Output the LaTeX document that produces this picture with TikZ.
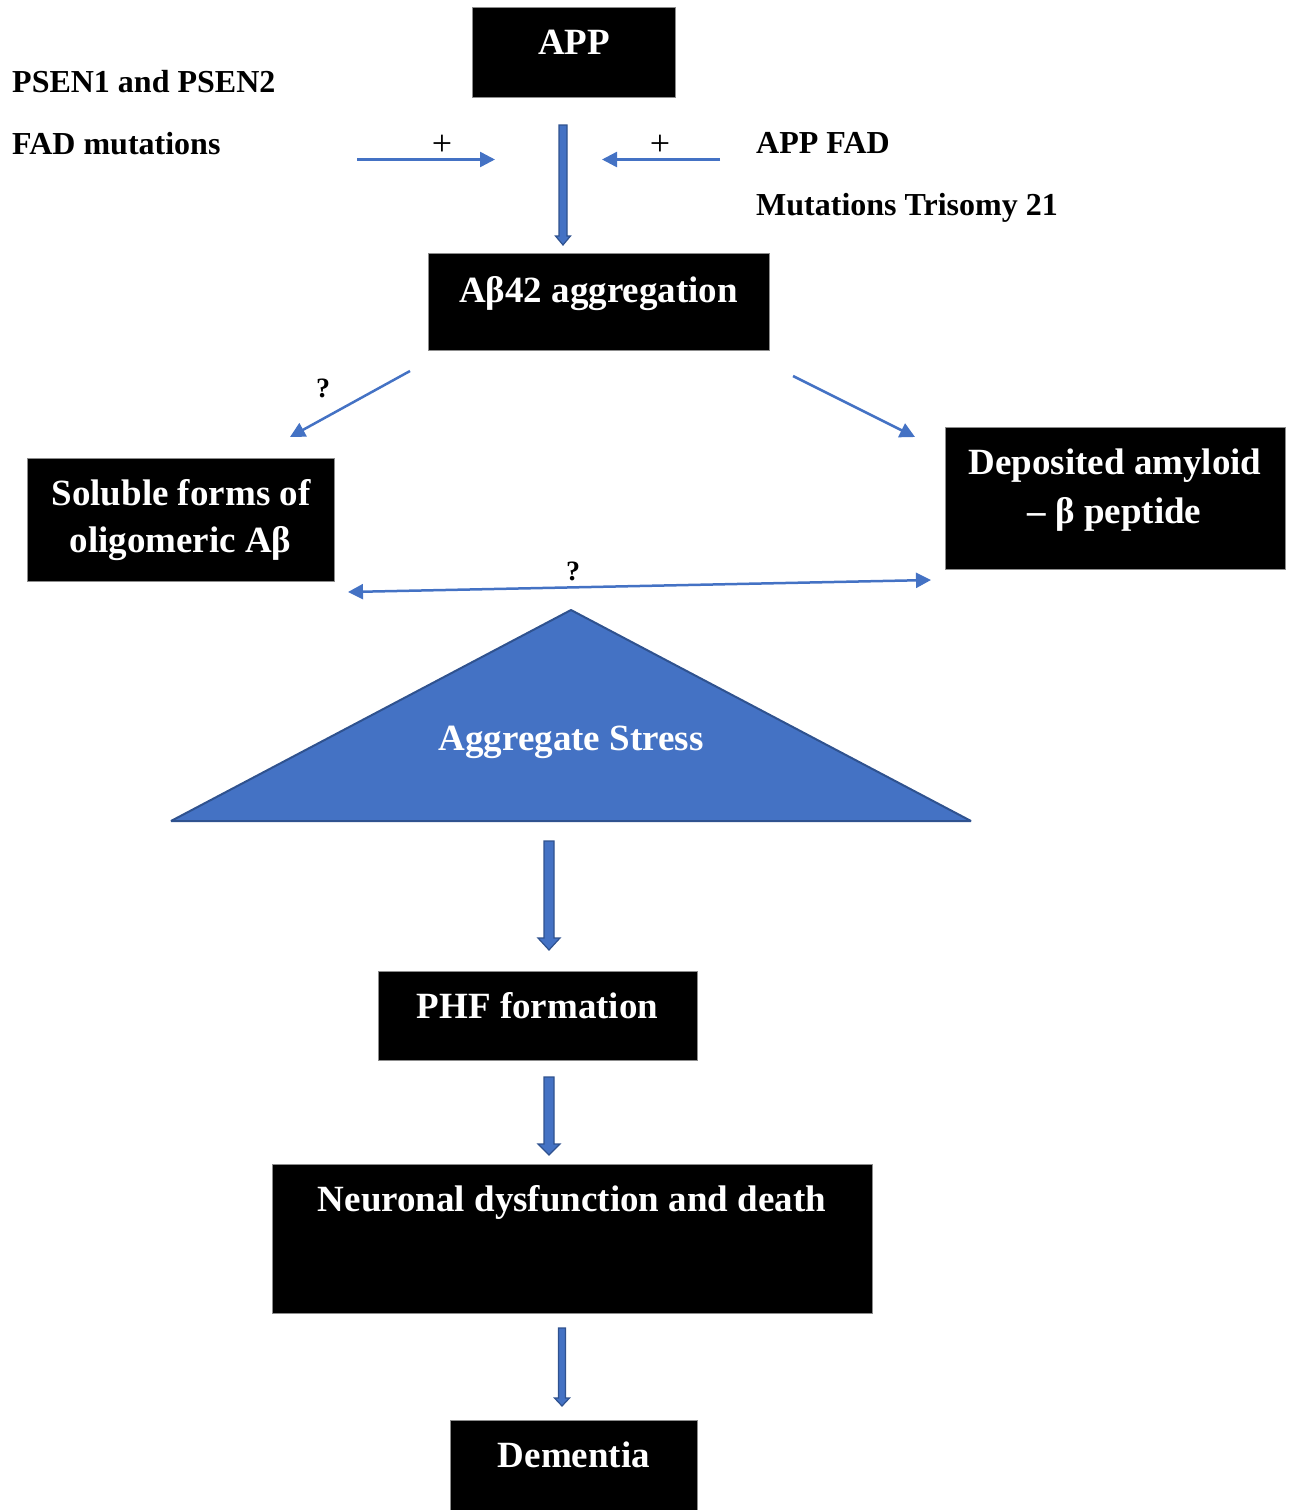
\documentclass[tikz,border=0pt]{standalone}
\usepackage{fontspec}
\setmainfont{Liberation Serif}
\usetikzlibrary{arrows.meta,calc}
\definecolor{arrowblue}{HTML}{4472C4}
\definecolor{edgeblue}{HTML}{2F528F}
\newcommand{\blkarrow}[6]{% x, ytop, ytip, shaft, headwidth, headlength
  \filldraw[fill=arrowblue,draw=edgeblue,line width=1.2pt,line join=miter]
    ({#1-#4/2},#2) -- ({#1+#4/2},#2) -- ({#1+#4/2},{#3-#6}) -- ({#1+#5/2},{#3-#6})
    -- (#1,#3) -- ({#1-#5/2},{#3-#6}) -- ({#1-#4/2},{#3-#6}) -- cycle;}
\begin{document}
\begin{tikzpicture}[x=1pt,y=-1pt,
  box/.style={fill=black,draw=black!45,line width=1pt,inner sep=0pt,outer sep=0pt},
  boxtext/.style={text=white,font=\fontsize{37}{44}\selectfont\bfseries,inner sep=0pt,anchor=base},
  sidetext/.style={text=black,font=\fontsize{32}{38}\selectfont\bfseries,inner sep=0pt,anchor=base west},
  signtext/.style={text=black,font=\fontsize{36}{40}\selectfont,inner sep=0pt},
  qtext/.style={text=black,font=\fontsize{28}{30}\selectfont\bfseries,inner sep=0pt},
  thinarrow/.style={draw=arrowblue,line width=2.5pt,-{Triangle[length=15pt,width=15pt]}},
  dblarrow/.style={draw=arrowblue,line width=2.5pt,{Triangle[length=15pt,width=15pt]}-{Triangle[length=15pt,width=15pt]}}]
\useasboundingbox (0,0) rectangle (1292,1510);

% boxes
\node[box,minimum width=203pt,minimum height=90pt] (app) at (573.5,52) {};
\node[box,minimum width=341pt,minimum height=97pt] (abeta) at (598.5,301.5) {};
\node[box,minimum width=307pt,minimum height=123pt] (soluble) at (180.5,519.5) {};
\node[box,minimum width=340pt,minimum height=142pt] (deposited) at (1115,498) {};
\node[box,minimum width=319pt,minimum height=89pt] (phf) at (537.5,1015.5) {};
\node[box,minimum width=600pt,minimum height=149pt] (neuronal) at (572,1238.5) {};
\node[box,minimum width=247pt,minimum height=92pt] (dementia) at (573.5,1466) {};

% box texts
\node[boxtext] (tapp) at (574,54) {APP};
\node[boxtext] (tabeta) at (598.5,302) {Aβ42 aggregation};
\node[boxtext] (tsol1) at (181,505) {Soluble forms of};
\node[boxtext] (tsol2) at (180.5,552) {oligomeric Aβ};
\node[boxtext] (tdep1) at (1115,474) {Deposited amyloid};
\node[boxtext] (tdep2) at (1114.5,523) {– β peptide};
\node[boxtext] (tphf) at (537.5,1018) {PHF formation};
\node[boxtext] (tneu) at (572,1211) {Neuronal dysfunction and death};
\node[boxtext] (tdem) at (574,1467) {Dementia};

% side texts
\node[sidetext] (psen) at (12,92) {PSEN1 and PSEN2};
\node[sidetext] (fad) at (12,154.5) {FAD mutations};
\node[sidetext] (appfad) at (756,153.5) {APP FAD};
\node[sidetext] (trisomy) at (756,215.5) {Mutations Trisomy 21};

% triangle
\filldraw[fill=arrowblue,draw=edgeblue,line width=2pt,line join=bevel]
  (571,610) -- (971,821) -- (171,821) -- cycle;
\node[boxtext] (tagg) at (571,750) {Aggregate Stress};

% thin arrows
\coordinate (l1) at (357,159.5);
\coordinate (l2) at (495,159.5);
\coordinate (r1) at (720,159.5);
\coordinate (r2) at (602,159.5);
\draw[thinarrow] (l1) -- (l2);
\draw[thinarrow] (r1) -- (r2);
\node[signtext] (plus1) at (442,145) {+};
\node[signtext] (plus2) at (660,145) {+};

\coordinate (dl1) at (410,371);
\coordinate (dl2) at (290,437);
\coordinate (dr1) at (793,376);
\coordinate (dr2) at (915,437);
\draw[thinarrow] (dl1) -- (dl2);
\draw[thinarrow] (dr1) -- (dr2);
\node[qtext] (q1) at (323,388) {?};

\coordinate (h1) at (348,592);
\coordinate (h2) at (931,580);
\draw[dblarrow] (h1) -- (h2);
\node[qtext] (q2) at (573,571) {?};

% block arrows
\blkarrow{563}{125}{245}{8}{15}{9}
\blkarrow{549}{841}{950}{10}{22}{12}
\blkarrow{549}{1077}{1155}{10}{22}{11}
\blkarrow{562}{1328}{1406}{7}{15}{8}
\end{tikzpicture}
\end{document}
